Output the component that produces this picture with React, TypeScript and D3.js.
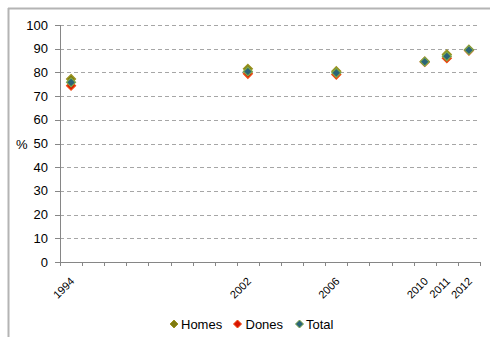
import React from "react";
import * as d3 from "d3";

const years = [1994, 2002, 2006, 2010, 2011, 2012];
const homes = [77.2, 81.5, 80.5, 84.6, 87.6, 89.6];
const dones = [74.4, 79.4, 79.1, 84.4, 86.0, 89.2];
const total = [75.8, 80.4, 79.8, 84.5, 86.8, 89.4];
const yTicks = [0, 10, 20, 30, 40, 50, 60, 70, 80, 90, 100];
const seriesNames = ["Homes", "Dones", "Total"];

const W = 490, H = 337;
const left = 60, right = 480, top = 25, bottom = 262;

export default function App() {
  const x = d3.scaleLinear().domain([1993.5, 2012.5]).range([left, right]);
  const y = d3.scaleLinear().domain([0, 100]).range([bottom, top]);
  const xTickVals = d3.range(1993.5, 2013, 1);
  const series = [
    { name: seriesNames[0], vals: homes, fill: "#7F7A10", stroke: "#9C9420" },
    { name: seriesNames[1], vals: dones, fill: "#D81400", stroke: "#F04A10" },
    { name: seriesNames[2], vals: total, fill: "#2A6478", stroke: "#7FA84A" },
  ];
  const diamond = (cx: number, cy: number, r: number) =>
    `M${cx},${cy - r}L${cx + r},${cy}L${cx},${cy + r}L${cx - r},${cy}Z`;
  const font = "'Liberation Sans', Arial, sans-serif";
  const legendX = [174, 237.5, 299.5];
  const legendTextDx = [7, 8, 6.5];
  return (
    <svg width={W} height={H} style={{ position: "absolute", left: 0, top: 0, background: "#fff" }}>
      <rect x={0} y={0} width={W} height={H} fill="#fff" />
      <line x1={8} y1={8.5} x2={W} y2={8.5} stroke="#b4b4b4" strokeWidth={2} />
      <line x1={8.5} y1={8} x2={8.5} y2={H} stroke="#b4b4b4" strokeWidth={2} />
      {yTicks.filter((t) => t > 0).map((t) => (
        <line key={"g" + t} x1={left} x2={right} y1={Math.round(y(t)) + 0.5} y2={Math.round(y(t)) + 0.5}
          stroke="#a6a6a6" strokeWidth={1} strokeDasharray="4,3" />
      ))}
      <line x1={left + 0.5} x2={left + 0.5} y1={top} y2={bottom} stroke="#868686" />
      <line x1={left} x2={right} y1={bottom + 0.5} y2={bottom + 0.5} stroke="#868686" />
      {yTicks.map((t) => (
        <g key={"y" + t}>
          <line x1={left - 5} x2={left} y1={Math.round(y(t)) + 0.5} y2={Math.round(y(t)) + 0.5} stroke="#868686" />
          <text x={48} y={y(t)} dy="0.35em" textAnchor="end" fontFamily={font} fontSize={13} fill="#000">{t}</text>
        </g>
      ))}
      <text x={16} y={y(50) + 1} dy="0.35em" fontFamily={font} fontSize={13} fill="#000">%</text>
      {xTickVals.map((t, i) => (
        <line key={"xt" + i} x1={Math.round(x(t)) + 0.5} x2={Math.round(x(t)) + 0.5} y1={bottom} y2={bottom + 4} stroke="#868686" />
      ))}
      {years.map((yr) => (
        <text key={"xl" + yr} transform={`translate(${x(yr) + 4},${bottom + 20}) rotate(-45)`}
          textAnchor="end" fontFamily={font} fontSize={11} fill="#000">{yr}</text>
      ))}
      {series.map((s) => (
        <g key={s.name}>
          {s.vals.map((v, i) => (
            <path key={i} d={diamond(x(years[i]), y(v), 4.5)} fill={s.fill} stroke={s.stroke} strokeWidth={1.2} />
          ))}
        </g>
      ))}
      {series.map((s, i) => (
        <g key={"lg" + s.name}>
          <path d={diamond(legendX[i], 324, 4)} fill={s.fill} stroke={s.stroke} strokeWidth={1} />
          <text x={legendX[i] + legendTextDx[i]} y={324} dy="0.35em" fontFamily={font} fontSize={13} fill="#000">{s.name}</text>
        </g>
      ))}
    </svg>
  );
}
